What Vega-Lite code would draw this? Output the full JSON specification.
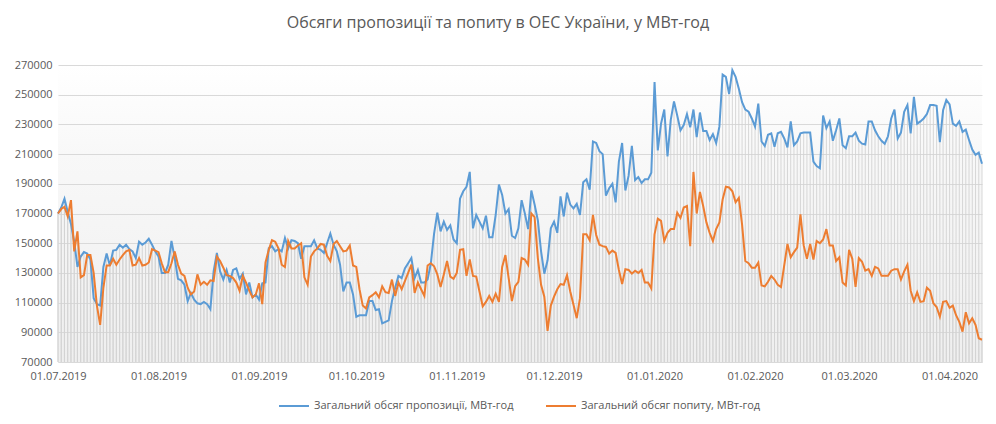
{
"$schema": "https://vega.github.io/schema/vega-lite/v6.json",
"width": 924, "height": 297,
"autosize": {"type": "none"},
"padding": {"left": 58, "top": 65, "right": 14, "bottom": 62},
"background": "#ffffff",
"view": {"stroke": null, "fill": {"gradient": "linear", "x1": 0, "y1": 0, "x2": 0, "y2": 1, "stops": [{"offset": 0, "color": "#ffffff"}, {"offset": 0.3, "color": "#f8f8f8"}, {"offset": 1, "color": "#efefef"}]}},
"config": {"font": "Open Sans"},
"title": {"text": "Обсяги пропозиції та попиту в ОЕС України, у МВт-год", "font": "Open Sans", "fontSize": 16, "fontWeight": "normal", "color": "#595959", "anchor": "middle", "dx": -22, "offset": 28},
"data": {"values": [
{"d":"2019-07-01","s":170000,"p":170000},{"d":"2019-07-02","s":174000,"p":173000},{"d":"2019-07-03","s":180000,"p":174500},{"d":"2019-07-04","s":171000,"p":168000},{"d":"2019-07-05","s":163000,"p":179000},{"d":"2019-07-06","s":151000,"p":144500},{"d":"2019-07-07","s":134000,"p":158000},{"d":"2019-07-08","s":141000,"p":127000},{"d":"2019-07-09","s":144000,"p":128500},{"d":"2019-07-10","s":143000,"p":142000},{"d":"2019-07-11","s":139000,"p":142000},{"d":"2019-07-12","s":113000,"p":130000},{"d":"2019-07-13","s":109000,"p":108000},{"d":"2019-07-14","s":108000,"p":95000},{"d":"2019-07-15","s":134000,"p":120000},{"d":"2019-07-16","s":143000,"p":135000},{"d":"2019-07-17","s":135000,"p":135000},{"d":"2019-07-18","s":145000,"p":139500},{"d":"2019-07-19","s":145500,"p":135500},{"d":"2019-07-20","s":149000,"p":139000},{"d":"2019-07-21","s":147000,"p":142000},{"d":"2019-07-22","s":149000,"p":144500},{"d":"2019-07-23","s":146000,"p":145500},{"d":"2019-07-24","s":144500,"p":135000},{"d":"2019-07-25","s":140000,"p":135500},{"d":"2019-07-26","s":151000,"p":140000},{"d":"2019-07-27","s":149000,"p":135000},{"d":"2019-07-28","s":150500,"p":135500},{"d":"2019-07-29","s":153000,"p":137000},{"d":"2019-07-30","s":149000,"p":146000},{"d":"2019-07-31","s":144500,"p":145000},
{"d":"2019-08-01","s":141000,"p":144000},{"d":"2019-08-02","s":130000,"p":136500},{"d":"2019-08-03","s":130000,"p":130500},{"d":"2019-08-04","s":135500,"p":130500},{"d":"2019-08-05","s":151500,"p":136500},{"d":"2019-08-06","s":140000,"p":144500},{"d":"2019-08-07","s":126000,"p":135500},{"d":"2019-08-08","s":125000,"p":129500},{"d":"2019-08-09","s":122000,"p":128000},{"d":"2019-08-10","s":111000,"p":120000},{"d":"2019-08-11","s":116500,"p":115500},{"d":"2019-08-12","s":112000,"p":117500},{"d":"2019-08-13","s":109500,"p":129000},{"d":"2019-08-14","s":109000,"p":122000},{"d":"2019-08-15","s":110500,"p":124000},{"d":"2019-08-16","s":109000,"p":122000},{"d":"2019-08-17","s":105500,"p":125000},{"d":"2019-08-18","s":131000,"p":124500},{"d":"2019-08-19","s":143500,"p":141000},{"d":"2019-08-20","s":131000,"p":138000},{"d":"2019-08-21","s":125500,"p":133500},{"d":"2019-08-22","s":132000,"p":128500},{"d":"2019-08-23","s":123500,"p":128000},{"d":"2019-08-24","s":132000,"p":126500},{"d":"2019-08-25","s":133000,"p":123500},{"d":"2019-08-26","s":126000,"p":118000},{"d":"2019-08-27","s":129500,"p":128000},{"d":"2019-08-28","s":115500,"p":123500},{"d":"2019-08-29","s":123500,"p":118000},{"d":"2019-08-30","s":113500,"p":113500},{"d":"2019-08-31","s":115500,"p":115500},
{"d":"2019-09-01","s":112000,"p":123000},{"d":"2019-09-02","s":123000,"p":109000},{"d":"2019-09-03","s":123500,"p":137000},{"d":"2019-09-04","s":146500,"p":145500},{"d":"2019-09-05","s":148000,"p":152000},{"d":"2019-09-06","s":144500,"p":151000},{"d":"2019-09-07","s":146000,"p":146500},{"d":"2019-09-08","s":144500,"p":135500},{"d":"2019-09-09","s":153500,"p":134000},{"d":"2019-09-10","s":146500,"p":151500},{"d":"2019-09-11","s":152000,"p":146500},{"d":"2019-09-12","s":151500,"p":146500},{"d":"2019-09-13","s":150000,"p":148500},{"d":"2019-09-14","s":139500,"p":150000},{"d":"2019-09-15","s":148000,"p":127000},{"d":"2019-09-16","s":148000,"p":122000},{"d":"2019-09-17","s":148000,"p":141000},{"d":"2019-09-18","s":152000,"p":144500},{"d":"2019-09-19","s":146500,"p":146500},{"d":"2019-09-20","s":145500,"p":149500},{"d":"2019-09-21","s":143500,"p":149000},{"d":"2019-09-22","s":150000,"p":141500},{"d":"2019-09-23","s":156500,"p":138000},{"d":"2019-09-24","s":149000,"p":149500},{"d":"2019-09-25","s":144500,"p":151500},{"d":"2019-09-26","s":135500,"p":148000},{"d":"2019-09-27","s":117500,"p":144500},{"d":"2019-09-28","s":123500,"p":145000},{"d":"2019-09-29","s":123500,"p":148500},{"d":"2019-09-30","s":115500,"p":135000},
{"d":"2019-10-01","s":100500,"p":134000},{"d":"2019-10-02","s":101500,"p":119000},{"d":"2019-10-03","s":101500,"p":108000},{"d":"2019-10-04","s":101500,"p":106000},{"d":"2019-10-05","s":111000,"p":113500},{"d":"2019-10-06","s":111000,"p":115000},{"d":"2019-10-07","s":105000,"p":117000},{"d":"2019-10-08","s":105500,"p":113500},{"d":"2019-10-09","s":96000,"p":121000},{"d":"2019-10-10","s":97000,"p":117000},{"d":"2019-10-11","s":98000,"p":116500},{"d":"2019-10-12","s":111000,"p":125500},{"d":"2019-10-13","s":120000,"p":114500},{"d":"2019-10-14","s":128000,"p":123500},{"d":"2019-10-15","s":126500,"p":119000},{"d":"2019-10-16","s":133000,"p":124500},{"d":"2019-10-17","s":136500,"p":130000},{"d":"2019-10-18","s":140000,"p":135500},{"d":"2019-10-19","s":126500,"p":116500},{"d":"2019-10-20","s":132000,"p":123500},{"d":"2019-10-21","s":123500,"p":119000},{"d":"2019-10-22","s":123500,"p":114500},{"d":"2019-10-23","s":125500,"p":135000},{"d":"2019-10-24","s":136500,"p":136500},{"d":"2019-10-25","s":156500,"p":134500},{"d":"2019-10-26","s":170500,"p":129000},{"d":"2019-10-27","s":158000,"p":120500},{"d":"2019-10-28","s":164500,"p":129000},{"d":"2019-10-29","s":159000,"p":138000},{"d":"2019-10-30","s":162000,"p":127500},{"d":"2019-10-31","s":152500,"p":126000},
{"d":"2019-11-01","s":150000,"p":130000},{"d":"2019-11-02","s":180000,"p":145500},{"d":"2019-11-03","s":185000,"p":146000},{"d":"2019-11-04","s":188000,"p":128000},{"d":"2019-11-05","s":198000,"p":139000},{"d":"2019-11-06","s":160000,"p":128000},{"d":"2019-11-07","s":169000,"p":127500},{"d":"2019-11-08","s":164500,"p":117500},{"d":"2019-11-09","s":160000,"p":107500},{"d":"2019-11-10","s":168500,"p":110500},{"d":"2019-11-11","s":154000,"p":114500},{"d":"2019-11-12","s":154000,"p":110500},{"d":"2019-11-13","s":169000,"p":116000},{"d":"2019-11-14","s":189500,"p":110500},{"d":"2019-11-15","s":182500,"p":134000},{"d":"2019-11-16","s":170000,"p":142000},{"d":"2019-11-17","s":173000,"p":126500},{"d":"2019-11-18","s":155000,"p":111000},{"d":"2019-11-19","s":153500,"p":121000},{"d":"2019-11-20","s":160000,"p":124000},{"d":"2019-11-21","s":179000,"p":140000},{"d":"2019-11-22","s":170000,"p":139000},{"d":"2019-11-23","s":159500,"p":135500},{"d":"2019-11-24","s":185500,"p":170000},{"d":"2019-11-25","s":176000,"p":167500},{"d":"2019-11-26","s":165500,"p":140000},{"d":"2019-11-27","s":144500,"p":122000},{"d":"2019-11-28","s":129500,"p":114000},{"d":"2019-11-29","s":138500,"p":91000},{"d":"2019-11-30","s":160000,"p":108000},
{"d":"2019-12-01","s":164500,"p":114000},{"d":"2019-12-02","s":157000,"p":119000},{"d":"2019-12-03","s":181500,"p":122500},{"d":"2019-12-04","s":168000,"p":122000},{"d":"2019-12-05","s":184000,"p":128500},{"d":"2019-12-06","s":176000,"p":117500},{"d":"2019-12-07","s":173500,"p":108500},{"d":"2019-12-08","s":176500,"p":99500},{"d":"2019-12-09","s":169000,"p":113000},{"d":"2019-12-10","s":191000,"p":156000},{"d":"2019-12-11","s":193000,"p":156000},{"d":"2019-12-12","s":186000,"p":152000},{"d":"2019-12-13","s":218500,"p":169000},{"d":"2019-12-14","s":217500,"p":155500},{"d":"2019-12-15","s":212000,"p":149000},{"d":"2019-12-16","s":210000,"p":148000},{"d":"2019-12-17","s":182000,"p":147500},{"d":"2019-12-18","s":187000,"p":143000},{"d":"2019-12-19","s":190000,"p":145000},{"d":"2019-12-20","s":177500,"p":143500},{"d":"2019-12-21","s":205000,"p":132000},{"d":"2019-12-22","s":217500,"p":122500},{"d":"2019-12-23","s":185500,"p":132500},{"d":"2019-12-24","s":195500,"p":132000},{"d":"2019-12-25","s":215500,"p":129500},{"d":"2019-12-26","s":192500,"p":131500},{"d":"2019-12-27","s":194500,"p":130000},{"d":"2019-12-28","s":190500,"p":132000},{"d":"2019-12-29","s":193000,"p":123500},{"d":"2019-12-30","s":193000,"p":123500},{"d":"2019-12-31","s":197500,"p":119500},
{"d":"2020-01-01","s":258500,"p":156000},{"d":"2020-01-02","s":212500,"p":166500},{"d":"2020-01-03","s":230500,"p":165000},{"d":"2020-01-04","s":240000,"p":151500},{"d":"2020-01-05","s":208500,"p":157000},{"d":"2020-01-06","s":233000,"p":159500},{"d":"2020-01-07","s":245500,"p":159500},{"d":"2020-01-08","s":236000,"p":170500},{"d":"2020-01-09","s":226000,"p":167000},{"d":"2020-01-10","s":229500,"p":174000},{"d":"2020-01-11","s":237000,"p":175000},{"d":"2020-01-12","s":228000,"p":148000},{"d":"2020-01-13","s":240000,"p":198000},{"d":"2020-01-14","s":221500,"p":170000},{"d":"2020-01-15","s":238000,"p":184500},{"d":"2020-01-16","s":225500,"p":175000},{"d":"2020-01-17","s":225500,"p":164000},{"d":"2020-01-18","s":219500,"p":157000},{"d":"2020-01-19","s":223500,"p":151500},{"d":"2020-01-20","s":217500,"p":159500},{"d":"2020-01-21","s":228500,"p":164000},{"d":"2020-01-22","s":263500,"p":179500},{"d":"2020-01-23","s":262000,"p":188000},{"d":"2020-01-24","s":250500,"p":187500},{"d":"2020-01-25","s":266500,"p":185000},{"d":"2020-01-26","s":262000,"p":177500},{"d":"2020-01-27","s":254000,"p":180500},{"d":"2020-01-28","s":245000,"p":162500},{"d":"2020-01-29","s":240000,"p":138000},{"d":"2020-01-30","s":238500,"p":136500},{"d":"2020-01-31","s":234000,"p":133500},
{"d":"2020-02-01","s":228500,"p":133500},{"d":"2020-02-02","s":244000,"p":137000},{"d":"2020-02-03","s":218500,"p":121500},{"d":"2020-02-04","s":215500,"p":121000},{"d":"2020-02-05","s":223000,"p":124000},{"d":"2020-02-06","s":224000,"p":128000},{"d":"2020-02-07","s":215000,"p":125500},{"d":"2020-02-08","s":224000,"p":122000},{"d":"2020-02-09","s":225000,"p":120500},{"d":"2020-02-10","s":220500,"p":135000},{"d":"2020-02-11","s":214500,"p":149500},{"d":"2020-02-12","s":232000,"p":140500},{"d":"2020-02-13","s":216000,"p":144000},{"d":"2020-02-14","s":218500,"p":147000},{"d":"2020-02-15","s":224000,"p":169500},{"d":"2020-02-16","s":224500,"p":148500},{"d":"2020-02-17","s":224500,"p":139500},{"d":"2020-02-18","s":224500,"p":149500},{"d":"2020-02-19","s":205000,"p":139000},{"d":"2020-02-20","s":202000,"p":151500},{"d":"2020-02-21","s":200500,"p":150000},{"d":"2020-02-22","s":236000,"p":152500},{"d":"2020-02-23","s":227500,"p":159500},{"d":"2020-02-24","s":232000,"p":148500},{"d":"2020-02-25","s":219000,"p":148500},{"d":"2020-02-26","s":226000,"p":138000},{"d":"2020-02-27","s":234000,"p":140500},{"d":"2020-02-28","s":216000,"p":123500},{"d":"2020-02-29","s":214000,"p":121500},
{"d":"2020-03-01","s":222000,"p":145500},{"d":"2020-03-02","s":222000,"p":139500},{"d":"2020-03-03","s":224500,"p":120500},{"d":"2020-03-04","s":219000,"p":140000},{"d":"2020-03-05","s":217000,"p":137500},{"d":"2020-03-06","s":216500,"p":131500},{"d":"2020-03-07","s":232000,"p":132500},{"d":"2020-03-08","s":232000,"p":128000},{"d":"2020-03-09","s":226000,"p":134000},{"d":"2020-03-10","s":222000,"p":133000},{"d":"2020-03-11","s":219000,"p":128000},{"d":"2020-03-12","s":217000,"p":128000},{"d":"2020-03-13","s":222000,"p":128000},{"d":"2020-03-14","s":234000,"p":131500},{"d":"2020-03-15","s":240000,"p":132500},{"d":"2020-03-16","s":220500,"p":132500},{"d":"2020-03-17","s":224500,"p":125500},{"d":"2020-03-18","s":238500,"p":131000},{"d":"2020-03-19","s":243000,"p":135500},{"d":"2020-03-20","s":224000,"p":118000},{"d":"2020-03-21","s":248500,"p":111000},{"d":"2020-03-22","s":230500,"p":117000},{"d":"2020-03-23","s":232000,"p":110500},{"d":"2020-03-24","s":234000,"p":111000},{"d":"2020-03-25","s":237000,"p":120000},{"d":"2020-03-26","s":243000,"p":118000},{"d":"2020-03-27","s":243000,"p":109500},{"d":"2020-03-28","s":242500,"p":107000},{"d":"2020-03-29","s":218000,"p":100500},{"d":"2020-03-30","s":239500,"p":110500},{"d":"2020-03-31","s":246500,"p":111000},
{"d":"2020-04-01","s":243500,"p":106500},{"d":"2020-04-02","s":230500,"p":108000},{"d":"2020-04-03","s":229000,"p":101500},{"d":"2020-04-04","s":232000,"p":97000},{"d":"2020-04-05","s":225000,"p":90500},{"d":"2020-04-06","s":226500,"p":103500},{"d":"2020-04-07","s":219500,"p":96000},{"d":"2020-04-08","s":213000,"p":99500},{"d":"2020-04-09","s":209500,"p":95000},{"d":"2020-04-10","s":211000,"p":86000},{"d":"2020-04-11","s":203500,"p":85000}
]},
"layer": [
{"mark": {"type": "rule", "color": "#d2d2d2", "strokeWidth": 0.9},
 "encoding": {
  "x": {"field": "d", "type": "temporal", "scale": {"type": "utc", "domain": [{"year": 2019, "month": 7, "date": 1, "utc": true}, {"year": 2020, "month": 4, "date": 11, "utc": true}]},
        "axis": {"title": null, "format": "%d.%m.%Y", "values": [{"year": 2019, "month": 7, "date": 1, "utc": true}, {"year": 2019, "month": 8, "date": 1, "utc": true}, {"year": 2019, "month": 9, "date": 1, "utc": true}, {"year": 2019, "month": 10, "date": 1, "utc": true}, {"year": 2019, "month": 11, "date": 1, "utc": true}, {"year": 2019, "month": 12, "date": 1, "utc": true}, {"year": 2020, "month": 1, "date": 1, "utc": true}, {"year": 2020, "month": 2, "date": 1, "utc": true}, {"year": 2020, "month": 3, "date": 1, "utc": true}, {"year": 2020, "month": 4, "date": 1, "utc": true}],
                 "grid": false, "ticks": false, "domain": true, "domainColor": "#d9d9d9", "labelPadding": 8, "labelFont": "Open Sans", "labelFontSize": 11, "labelColor": "#595959", "labelOverlap": false, "labelFlush": false}},
  "y": {"field": "s", "type": "quantitative", "scale": {"domain": [70000, 270000], "nice": false, "zero": false},
        "axis": {"title": null, "values": [70000, 90000, 110000, 130000, 150000, 170000, 190000, 210000, 230000, 250000, 270000], "format": "d", "grid": true, "gridColor": "#d9d9d9", "gridWidth": 1, "domain": false, "ticks": false, "labelPadding": 6, "labelOverlap": false, "labelFont": "Open Sans", "labelFontSize": 11, "labelColor": "#595959"}},
  "y2": {"datum": 70000}
 }},
{"mark": {"type": "rule", "color": "#d2d2d2", "strokeWidth": 0.9},
 "encoding": {
  "x": {"field": "d", "type": "temporal"},
  "y": {"field": "p", "type": "quantitative",
        "axis": {"title": null, "values": [70000, 90000, 110000, 130000, 150000, 170000, 190000, 210000, 230000, 250000, 270000], "format": "d", "grid": true, "gridColor": "#d9d9d9", "gridWidth": 1, "domain": false, "ticks": false, "labelPadding": 6, "labelOverlap": false, "labelFont": "Open Sans", "labelFontSize": 11, "labelColor": "#595959"}},
  "y2": {"datum": 70000}
 }},
{"mark": {"type": "line", "strokeWidth": 2},
 "encoding": {
  "x": {"field": "d", "type": "temporal"},
  "y": {"field": "s", "type": "quantitative",
        "axis": {"title": null, "values": [70000, 90000, 110000, 130000, 150000, 170000, 190000, 210000, 230000, 250000, 270000], "format": "d", "grid": true, "gridColor": "#d9d9d9", "gridWidth": 1, "domain": false, "ticks": false, "labelPadding": 6, "labelOverlap": false, "labelFont": "Open Sans", "labelFontSize": 11, "labelColor": "#595959"}},
  "color": {"datum": "Загальний обсяг пропозиції, МВт-год", "type": "nominal",
            "scale": {"domain": ["Загальний обсяг пропозиції, МВт-год", "Загальний обсяг попиту, МВт-год"], "range": ["#5b9bd5", "#ed7d31"]},
            "legend": {"orient": "none", "legendX": 220, "legendY": 325, "direction": "horizontal", "title": null, "symbolType": "stroke", "symbolSize": 900, "symbolStrokeWidth": 2, "labelFont": "Open Sans", "labelFontSize": 11, "labelColor": "#595959", "labelLimit": 0, "columnPadding": 28, "labelOffset": 4}}
 }},
{"mark": {"type": "line", "strokeWidth": 2},
 "encoding": {
  "x": {"field": "d", "type": "temporal"},
  "y": {"field": "p", "type": "quantitative",
        "axis": {"title": null, "values": [70000, 90000, 110000, 130000, 150000, 170000, 190000, 210000, 230000, 250000, 270000], "format": "d", "grid": true, "gridColor": "#d9d9d9", "gridWidth": 1, "domain": false, "ticks": false, "labelPadding": 6, "labelOverlap": false, "labelFont": "Open Sans", "labelFontSize": 11, "labelColor": "#595959"}},
  "color": {"datum": "Загальний обсяг попиту, МВт-год", "type": "nominal"}
 }}
]
}
